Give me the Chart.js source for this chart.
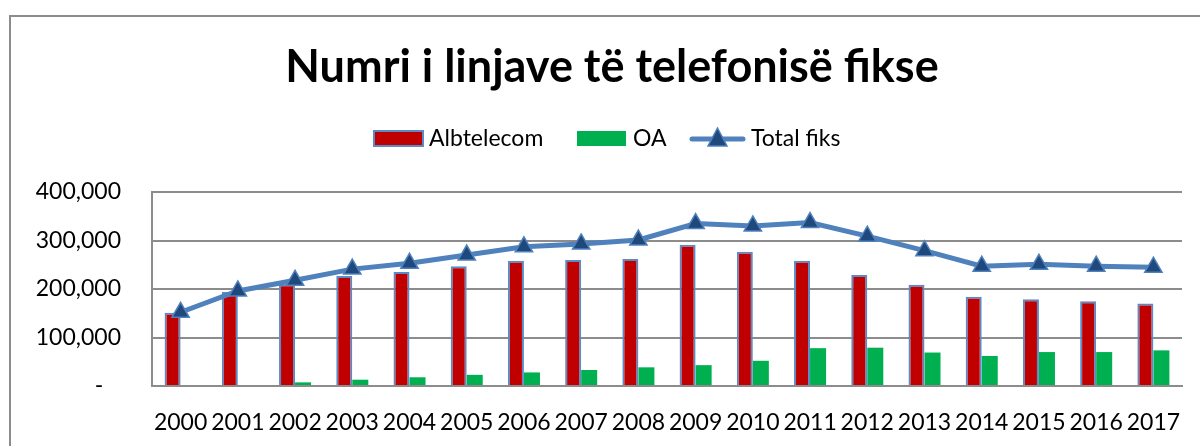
<!DOCTYPE html>
<html>
<head>
<meta charset="utf-8">
<script src="https://cdn.jsdelivr.net/npm/chart.js@4"></script>
<style>
    html, body { margin: 0; padding: 0; background: #fff; }
    #wrap { position: relative; width: 1200px; height: 446px; overflow: hidden; }
    #frame { position: absolute; left: 9px; top: 15px; width: 1210px; height: 460px; border: 2px solid #8c8c8c; box-sizing: border-box; }
    #lines { position: absolute; left: 0; top: 0; }
</style>
</head>
<body>
<div id="wrap">
    <div id="frame"></div>
    <canvas id="lines" width="1200" height="446"></canvas>
</div>
<script>
const years = ['2000', '2001', '2002', '2003', '2004', '2005', '2006', '2007', '2008',
    '2009', '2010', '2011', '2012', '2013', '2014', '2015', '2016', '2017'];
const albtelecom = [151000, 194000, 210000, 227000, 235000, 247000, 258000, 260000, 262000,
    291000, 277000, 258000, 229000, 209000, 184000, 179000, 175000, 170000];
const oa = [0, 0, 7500, 13000, 18000, 23000, 28000, 33000, 38500,
    43000, 52000, 78000, 79000, 69000, 62000, 70000, 70000, 73500];
const totalFiks = [152000, 196000, 218000, 241000, 253000, 270000, 287000, 293000, 301000,
    335000, 330000, 337000, 309000, 279000, 247000, 251000, 247000, 245000];

const chartTitle = 'Numri i linjave të telefonisë fikse';
const font = 'Lato, "Open Sans", sans-serif';

// title and legend drawn by hand: the title sits right of centre and the
// line item in the legend needs a line with a triangle on it
const headerPlugin = {
    id: 'excelHeader',
    afterDraw(chart) {
        const c = chart.ctx;
        const y = 139;
        c.save();
        c.fillStyle = '#000';
        c.font = 'bold 45px ' + font;
        c.textAlign = 'center';
        c.textBaseline = 'middle';
        c.fillText(chartTitle, 612, 67);

        c.textAlign = 'left';
        c.font = '23px ' + font;
        // Albtelecom
        c.fillStyle = '#C00000';
        c.fillRect(374, 131, 49, 15);
        c.strokeStyle = '#5B8BC7';
        c.lineWidth = 2;
        c.strokeRect(374, 131, 49, 15);
        c.fillStyle = '#000';
        c.fillText(chart.data.datasets[1].label, 429, y);
        // OA
        c.fillStyle = '#00B050';
        c.fillRect(577, 131, 49, 15);
        c.fillStyle = '#000';
        c.fillText(chart.data.datasets[2].label, 633, y);
        // Total fiks
        c.strokeStyle = '#4F81BD';
        c.lineWidth = 5;
        c.lineCap = 'round';
        c.beginPath();
        c.moveTo(692, y);
        c.lineTo(743, y);
        c.stroke();
        c.beginPath();
        c.moveTo(717.5, y - 11);
        c.lineTo(727, y + 7);
        c.lineTo(708, y + 7);
        c.closePath();
        c.fillStyle = '#1F497D';
        c.fill();
        c.lineWidth = 1.5;
        c.stroke();
        c.fillStyle = '#000';
        c.fillText(chart.data.datasets[0].label, 751, y);
        c.restore();
    }
};

const ctx = document.getElementById('lines').getContext('2d');
const linesChart = new Chart(ctx, {
    data: {
        labels: years,
        datasets: [{
            type: 'line',
            label: 'Total fiks',
            data: totalFiks,
            borderColor: '#4F81BD',
            borderWidth: 5,
            tension: 0,
            pointStyle: 'triangle',
            pointRadius: 10,
            pointBackgroundColor: '#1F497D',
            pointBorderColor: '#4F81BD',
            pointBorderWidth: 1.5,
            order: 0
        }, {
            type: 'bar',
            label: 'Albtelecom',
            data: albtelecom,
            backgroundColor: '#C00000',
            borderColor: '#5B8BC7',
            borderWidth: 2,
            order: 1
        }, {
            type: 'bar',
            label: 'OA',
            data: oa,
            backgroundColor: '#00B050',
            borderWidth: 0,
            order: 1
        }]
    },
    options: {
        responsive: false,
        animation: false,
        datasets: {
            bar: {
                categoryPercentage: 0.56,
                barPercentage: 1
            }
        },
        layout: {
            padding: { left: 0, right: 18, top: 192, bottom: 0 }
        },
        plugins: {
            legend: { display: false },
            tooltip: { enabled: false },
            title: { display: false }
        },
        scales: {
            x: {
                grid: { display: false },
                border: { display: true, color: '#8c8c8c', width: 2 },
                ticks: {
                    color: '#000',
                    font: { family: font, size: 23 },
                    padding: 15,
                    maxRotation: 0,
                    autoSkip: false
                },
                afterFit(scale) { scale.height = 60; }
            },
            y: {
                min: 0,
                max: 400000,
                grid: {
                    color: '#8c8c8c',
                    lineWidth: 2,
                    drawTicks: false
                },
                border: { display: true, color: '#8c8c8c', width: 2 },
                ticks: {
                    stepSize: 100000,
                    color: '#000',
                    font: { family: font, size: 23 },
                    padding: 31,
                    callback: (v) => v === 0 ? '-   ' : v.toLocaleString('en-US')
                },
                afterFit(scale) { scale.width = 152; }
            }
        }
    },
    plugins: [headerPlugin]
});
</script>
</body>
</html>
